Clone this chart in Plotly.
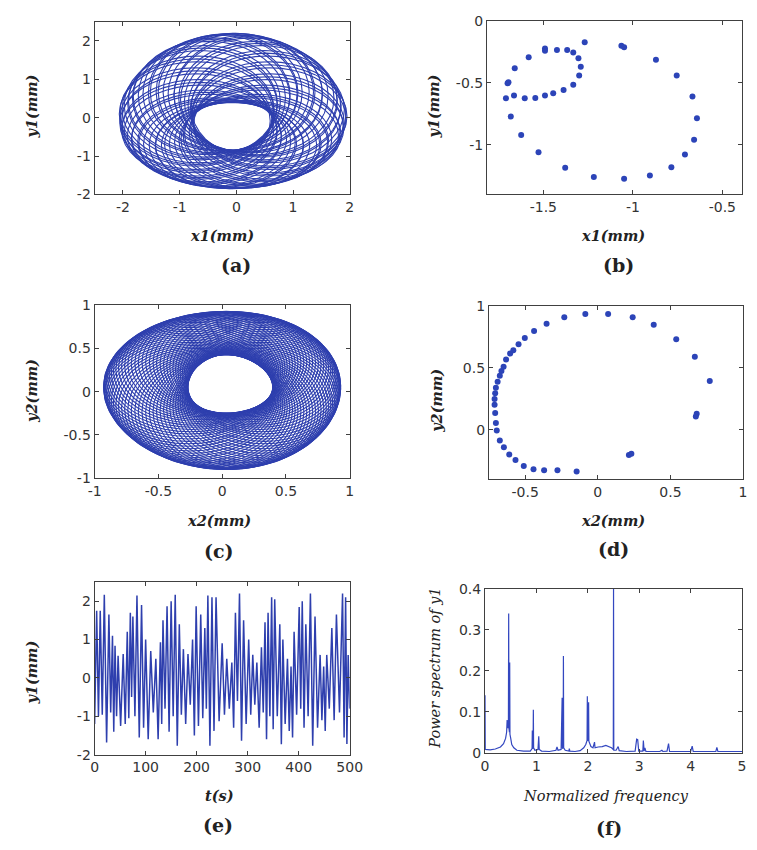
import math
import plotly.graph_objects as go

W, H = 757, 850
LINE = "#2e3fae"
DOT = "#2c44b8"
AXC = "#404040"

# ---------------- (a) x1-y1 torus: centre and semi-axes of each loop ----------------
a_cx = [0.585, 0.157, -0.563, -0.628, 0.048, 0.575, 0.26, -0.483, -0.676, -0.065, 0.546, 0.353,
        -0.39, -0.705, -0.178, 0.498, 0.433, -0.287, -0.715, -0.287, 0.433, 0.498, -0.178, -0.705,
        -0.39, 0.353, 0.546, -0.065, -0.676, -0.483, 0.26, 0.575, 0.048, -0.628, -0.563, 0.157,
        0.582, 0.524, 0.395, 0.210, -0.008, -0.233, -0.438, -0.597, -0.693, -0.712, -0.654, -0.525,
        -0.340, -0.122, 0.103, 0.308, 0.467, 0.563]
a_cy = [-0.025, 0.633, 0.425, -0.375, -0.715, -0.147, 0.581, 0.511, -0.264, -0.725, -0.264, 0.511,
        0.581, -0.147, -0.715, -0.375, 0.425, 0.633, -0.025, -0.683, -0.475, 0.325, 0.665, 0.097,
        -0.631, -0.561, 0.214, 0.675, 0.214, -0.561, -0.631, 0.097, 0.665, 0.325, -0.475, -0.683,
        0.036, 0.271, 0.470, 0.609, 0.672, 0.651, 0.548, 0.377, 0.156, -0.086, -0.321, -0.520,
        -0.659, -0.722, -0.701, -0.598, -0.427, -0.206]
a_rx = [1.35, 1.36, 1.34, 1.35, 1.37, 1.33, 1.36, 1.35, 1.34, 1.36, 1.35, 1.37, 1.34, 1.35, 1.36, 1.33,
        1.35, 1.36, 1.34, 1.35, 1.37, 1.35, 1.34, 1.36, 1.35, 1.33, 1.36, 1.35, 1.34, 1.37, 1.35, 1.36,
        1.34, 1.35, 1.36, 1.34,
        1.37, 1.32, 1.38, 1.31, 1.37, 1.32, 1.38, 1.32, 1.36, 1.31, 1.37, 1.32, 1.38, 1.31, 1.37, 1.32,
        1.38, 1.32]
a_ry = [1.325, 1.513, 1.454, 1.225, 1.128, 1.290, 1.498, 1.478, 1.257, 1.125, 1.257, 1.478, 1.498,
        1.290, 1.128, 1.225, 1.454, 1.513, 1.325, 1.137, 1.196, 1.425, 1.522, 1.360, 1.152, 1.172,
        1.393, 1.525, 1.393, 1.172, 1.152, 1.360, 1.522, 1.425, 1.196, 1.137,
        1.342, 1.410, 1.466, 1.506, 1.524, 1.518, 1.489, 1.440, 1.377, 1.308, 1.240, 1.184,
        1.144, 1.126, 1.132, 1.161, 1.210, 1.273]

# ---------------- (b) Poincare section x1-y1 ----------------
b_x = [-1.709, -1.700, -1.695, -1.660, -1.664, -1.604, -1.545, -1.491, -1.445, -1.387, -1.333, -1.300,
       -1.291, -1.304, -1.333, -1.367, -1.424, -1.491, -1.491, -1.582, -1.269, -1.064, -1.049, -0.871,
       -0.755, -0.667, -0.642, -0.658, -0.709, -0.785, -0.905, -1.049, -1.218, -1.378, -1.527, -1.624,
       -1.682]
b_y = [-0.625, -0.504, -0.496, -0.383, -0.603, -0.625, -0.622, -0.603, -0.584, -0.558, -0.515, -0.442,
       -0.370, -0.303, -0.255, -0.236, -0.236, -0.223, -0.241, -0.295, -0.174, -0.201, -0.214, -0.314,
       -0.442, -0.611, -0.786, -0.960, -1.078, -1.180, -1.247, -1.273, -1.260, -1.185, -1.059, -0.920,
       -0.772]

# ---------------- (c) x2-y2 torus: centre and semi-axes of each loop ----------------
c_cx = [0.330, 0.326, 0.312, 0.290, 0.260, 0.224, 0.181, 0.134, 0.084, 0.032, -0.020, -0.070,
        -0.117, -0.160, -0.196, -0.226, -0.248, -0.262, -0.266, -0.262, -0.248, -0.226, -0.196, -0.160,
        -0.117, -0.070, -0.020, 0.032, 0.084, 0.134, 0.181, 0.224, 0.260, 0.290, 0.312, 0.326,
        0.329, 0.320, 0.302, 0.276, 0.243, 0.203, 0.158, 0.109, 0.058, 0.006, -0.045, -0.094,
        -0.139, -0.179, -0.212, -0.238, -0.256, -0.265, -0.265, -0.256, -0.238, -0.212, -0.179, -0.139,
        -0.094, -0.045, 0.006, 0.058, 0.109, 0.158, 0.203, 0.243, 0.276, 0.302, 0.320, 0.329]
c_cy = [0.052, 0.102, 0.150, 0.196, 0.237, 0.273, 0.301, 0.323, 0.336, 0.340, 0.336, 0.323,
        0.301, 0.273, 0.237, 0.196, 0.150, 0.102, 0.052, 0.002, -0.046, -0.092, -0.133, -0.169,
        -0.197, -0.219, -0.232, -0.236, -0.232, -0.219, -0.197, -0.169, -0.133, -0.092, -0.046, 0.002,
        0.077, 0.127, 0.174, 0.217, 0.256, 0.288, 0.313, 0.330, 0.339, 0.339, 0.330, 0.313,
        0.288, 0.256, 0.217, 0.174, 0.127, 0.077, 0.027, -0.023, -0.070, -0.113, -0.152, -0.184,
        -0.209, -0.226, -0.235, -0.235, -0.226, -0.209, -0.184, -0.152, -0.113, -0.070, -0.023, 0.027]
c_rx = [0.600, 0.600, 0.602, 0.604, 0.607, 0.611, 0.616, 0.621, 0.626, 0.632, 0.638, 0.643,
        0.648, 0.653, 0.657, 0.660, 0.662, 0.664, 0.664, 0.664, 0.662, 0.660, 0.657, 0.653,
        0.648, 0.643, 0.638, 0.632, 0.626, 0.621, 0.616, 0.611, 0.607, 0.604, 0.602, 0.600,
        0.600, 0.601, 0.603, 0.606, 0.609, 0.614, 0.618, 0.624, 0.629, 0.635, 0.640, 0.646,
        0.650, 0.655, 0.658, 0.661, 0.663, 0.664, 0.664, 0.663, 0.661, 0.658, 0.655, 0.650,
        0.646, 0.640, 0.635, 0.629, 0.624, 0.618, 0.614, 0.609, 0.606, 0.603, 0.601, 0.600]
c_ry = [0.628, 0.621, 0.615, 0.609, 0.604, 0.599, 0.595, 0.592, 0.591, 0.590, 0.591, 0.592,
        0.595, 0.599, 0.604, 0.609, 0.615, 0.621, 0.628, 0.635, 0.641, 0.647, 0.652, 0.657,
        0.661, 0.664, 0.665, 0.666, 0.665, 0.664, 0.661, 0.657, 0.652, 0.647, 0.641, 0.635,
        0.625, 0.618, 0.612, 0.606, 0.601, 0.597, 0.594, 0.591, 0.590, 0.590, 0.591, 0.594,
        0.597, 0.601, 0.606, 0.612, 0.618, 0.625, 0.631, 0.638, 0.644, 0.650, 0.655, 0.659,
        0.662, 0.665, 0.666, 0.666, 0.665, 0.662, 0.659, 0.655, 0.650, 0.644, 0.638, 0.631]

# ---------------- (d) Poincare section x2-y2 ----------------
d_x = [-0.707, -0.711, -0.711, -0.707, -0.702, -0.690, -0.675, -0.664, -0.649, -0.632, -0.604, -0.582,
       -0.546, -0.503, -0.439, -0.353, -0.231, -0.086, 0.071, 0.240, 0.385, 0.540, 0.668, 0.771,
       0.681, 0.675, 0.214, 0.231, -0.146, -0.278, -0.370, -0.443, -0.510, -0.567, -0.610, -0.647,
       -0.675, -0.696, -0.702]
d_y = [0.134, 0.201, 0.249, 0.295, 0.340, 0.389, 0.437, 0.475, 0.509, 0.568, 0.617, 0.643,
       0.692, 0.743, 0.799, 0.858, 0.912, 0.938, 0.938, 0.912, 0.850, 0.732, 0.590, 0.394,
       0.129, 0.107, -0.206, -0.196, -0.340, -0.330, -0.330, -0.322, -0.295, -0.247, -0.201, -0.142,
       -0.088, -0.008, 0.054]

# ---------------- (e) y1 time history: successive maxima and minima ----------------
e_peak_t = [4, 11, 19, 28, 35, 40, 46, 56, 64, 70, 75, 83, 92, 100, 110, 120, 129, 134, 142, 150, 158,
            166, 174, 183, 192, 199, 208, 216, 222, 230, 238, 250, 259, 269, 276, 284, 292, 302, 310,
            318, 327, 334, 340, 347, 353, 363, 369, 378, 385, 391, 401, 407, 414, 423, 432, 442, 449,
            455, 465, 474, 486, 492, 497]
e_peak_v = [1.75, 1.75, 2.17, 1.65, 1.1, 0.84, 0.58, 0.62, 1.2, 1.7, 1.6, 2.15, 1.9, 1.0, 0.7, 0.5, 0.93,
            1.5, 1.87, 2.0, 2.17, 1.4, 0.75, 0.62, 1.0, 1.87, 1.65, 1.3, 2.15, 2.1, 2.1, 0.9, 0.5, 0.4,
            1.7, 2.2, 1.5, 1.0, 0.6, 0.4, 0.8, 1.45, 1.7, 2.1, 2.05, 1.4, 1.0, 0.5, 0.3, 1.2, 1.85, 2.0,
            1.4, 2.2, 1.6, 0.6, 0.3, 0.6, 1.3, 1.65, 2.2, 2.1, 0.6]
e_trough_t = [7.5, 15, 23.5, 31.5, 37.5, 43, 51, 60, 67, 72.5, 79, 87.5, 96, 105, 115, 124.5, 131.5,
              138, 146, 154, 162, 170, 178.5, 187.5, 195.5, 203.5, 212, 219, 226, 234, 244, 254.5,
              264, 272.5, 280, 288, 297, 306, 314, 322.5, 330.5, 337, 343.5, 350, 358, 366, 373.5,
              381.5, 388, 396, 404, 410.5, 418.5, 427.5, 437, 445.5, 452, 460, 469.5, 480, 489, 494.5]
e_trough_v = [-1.0, -0.96, -1.68, -0.9, -1.4, -1.0, -1.25, -1.2, -1.05, -0.5, -1.0, -1.55, -1.3, -1.6,
              -0.9, -1.6, -1.2, -0.8, -1.4, -1.0, -1.77, -0.96, -1.2, -0.7, -1.5, -1.25, -1.05, -0.8,
              -1.77, -1.38, -1.13, -0.96, -0.8, -1.3, -0.6, -1.64, -1.2, -0.96, -0.7, -1.3, -0.9, -1.6,
              -1.0, -1.34, -1.0, -1.73, -1.2, -1.38, -1.55, -0.96, -0.8, -1.3, -1.0, -1.77, -1.3, -1.1,
              -1.38, -0.8, -1.1, -0.9, -1.55, -1.72]
e_start = (0, -1.2)
e_end = (500, -0.8)

# ---------------- (f) power spectrum of y1 ----------------
f_freq = [0.0, 0.005, 0.1, 0.2, 0.3, 0.36, 0.40, 0.42, 0.43, 0.44, 0.455, 0.46, 0.465, 0.475, 0.48,
          0.485, 0.5, 0.52, 0.56, 0.62, 0.75, 0.88, 0.915, 0.92, 0.925, 0.935, 0.94, 0.945, 0.97,
          1.03, 1.045, 1.055, 1.1, 1.25, 1.38, 1.40, 1.42, 1.48, 1.5, 1.505, 1.52, 1.525, 1.53, 1.56,
          1.63, 1.64, 1.65, 1.75, 1.85, 1.92, 1.96, 1.985, 1.99, 1.995, 2.01, 2.015, 2.02, 2.06, 2.1,
          2.13, 2.14, 2.2, 2.28, 2.35, 2.4, 2.46, 2.495, 2.5, 2.505, 2.55, 2.59, 2.61, 2.75, 2.92,
          2.95, 2.97, 2.99, 3.07, 3.08, 3.095, 3.11, 3.13, 3.4, 3.44, 3.46, 3.54, 3.57, 3.59, 4.0,
          4.03, 4.05, 4.49, 4.51, 4.53, 5.0]
f_power = [0.14, 0.008, 0.007, 0.009, 0.014, 0.022, 0.035, 0.05, 0.08, 0.06, 0.07, 0.34, 0.06, 0.05,
           0.22, 0.045, 0.035, 0.02, 0.012, 0.006, 0.004, 0.004, 0.01, 0.054, 0.01, 0.012, 0.105,
           0.012, 0.006, 0.008, 0.04, 0.008, 0.004, 0.003, 0.006, 0.014, 0.006, 0.008, 0.134, 0.01,
           0.012, 0.236, 0.012, 0.006, 0.004, 0.01, 0.004, 0.003, 0.005, 0.012, 0.02, 0.03, 0.138,
           0.03, 0.03, 0.123, 0.028, 0.015, 0.012, 0.026, 0.012, 0.014, 0.015, 0.018, 0.016, 0.012,
           0.008, 0.4, 0.006, 0.006, 0.015, 0.005, 0.003, 0.004, 0.033, 0.032, 0.004, 0.004, 0.03,
           0.004, 0.012, 0.003, 0.003, 0.006, 0.003, 0.004, 0.022, 0.003, 0.003, 0.016, 0.003, 0.003,
           0.013, 0.003, 0.003]

# ---------------- axis ticks ----------------
ticks = {
    "a_x": ([-2, -1, 0, 1, 2], ["-2", "-1", "0", "1", "2"]),
    "a_y": ([-2, -1, 0, 1, 2], ["-2", "-1", "0", "1", "2"]),
    "b_x": ([-1.5, -1, -0.5], ["-1.5", "-1", "-0.5"]),
    "b_y": ([-1, -0.5, 0], ["-1", "-0.5", "0"]),
    "c_x": ([-1, -0.5, 0, 0.5, 1], ["-1", "-0.5", "0", "0.5", "1"]),
    "c_y": ([-1, -0.5, 0, 0.5, 1], ["-1", "-0.5", "0", "0.5", "1"]),
    "d_x": ([-0.5, 0, 0.5, 1], ["-0.5", "0", "0.5", "1"]),
    "d_y": ([0, 0.5, 1], ["0", "0.5", "1"]),
    "e_x": ([0, 100, 200, 300, 400, 500], ["0", "100", "200", "300", "400", "500"]),
    "e_y": ([-2, -1, 0, 1, 2], ["-2", "-1", "0", "1", "2"]),
    "f_x": ([0, 1, 2, 3, 4, 5], ["0", "1", "2", "3", "4", "5"]),
    "f_y": ([0, 0.1, 0.2, 0.3, 0.4], ["0", "0.1", "0.2", "0.3", "0.4"]),
}

# each torus loop is traced as a closed ellipse around its centre
N_SEG = 40
RING = [(math.cos(2 * math.pi * j / N_SEG), math.sin(2 * math.pi * j / N_SEG)) for j in range(N_SEG + 1)]


def orbit(cx, cy, rx, ry):
    xs, ys = [], []
    for i in range(len(cx)):
        for c, s in RING:
            xs.append(cx[i] + rx[i] * c)
            ys.append(cy[i] + ry[i] * s)
        xs.append(None)
        ys.append(None)
    return xs, ys


def history(pt, pv, tt, tv):
    ts, vs = [e_start[0]], [e_start[1]]
    for i in range(len(pt)):
        ts.append(pt[i]); vs.append(pv[i])
        if i < len(tt):
            ts.append(tt[i]); vs.append(tv[i])
    ts.append(e_end[0]); vs.append(e_end[1])
    return ts, vs


fig = go.Figure()

ax, ay = orbit(a_cx, a_cy, a_rx, a_ry)
fig.add_trace(go.Scatter(x=ax, y=ay, mode="lines", line=dict(color=LINE, width=1.1),
                         xaxis="x", yaxis="y"))
fig.add_trace(go.Scatter(x=b_x, y=b_y, mode="markers", marker=dict(color=DOT, size=6),
                         xaxis="x2", yaxis="y2"))
cx_, cy_ = orbit(c_cx, c_cy, c_rx, c_ry)
fig.add_trace(go.Scatter(x=cx_, y=cy_, mode="lines", line=dict(color=LINE, width=1.1),
                         xaxis="x3", yaxis="y3"))
fig.add_trace(go.Scatter(x=d_x, y=d_y, mode="markers", marker=dict(color=DOT, size=6),
                         xaxis="x4", yaxis="y4"))
et, ev = history(e_peak_t, e_peak_v, e_trough_t, e_trough_v)
fig.add_trace(go.Scatter(x=et, y=ev, mode="lines", line=dict(color=LINE, width=1.5),
                         xaxis="x5", yaxis="y5"))
fig.add_trace(go.Scatter(x=f_freq, y=f_power, mode="lines", line=dict(color="#3347c0", width=1.2),
                         xaxis="x6", yaxis="y6"))


# page pixel -> paper fraction
def px_x(p):
    return p / W


def px_y(p):
    return 1 - p / H


# plot-area boxes in page pixels: left, right, top, bottom, x range, y range
boxes = {
    "a": (90, 352, 14, 190, [-2.5, 2], [-2, 2.5]),
    "b": (493, 755, 13, 190, [-1.815, -0.39], [-1.4, 0]),
    "c": (90, 352, 303, 479, [-1, 1], [-1, 1]),
    "d": (495, 756, 304, 480, [-0.75, 1.0], [-0.4, 1]),
    "e": (90, 352, 585, 761, [0, 500], [-2, 2.5]),
    "f": (491, 755, 592, 759, [0, 5], [0, 0.4]),
}

axis_common = dict(showline=True, linecolor=AXC, linewidth=1, mirror="ticks", ticks="inside",
                   ticklen=4, tickcolor=AXC, showgrid=False, zeroline=False,
                   ticklabeloverflow="allow",
                   tickfont=dict(family="DejaVu Sans", size=14, color="#333333"))

layout = {}
for n, key in enumerate("abcdef", start=1):
    l, r, t, b, xr, yr = boxes[key]
    sfx = "" if n == 1 else str(n)
    xv, xt = ticks[key + "_x"]
    yv, yt = ticks[key + "_y"]
    layout["xaxis" + sfx] = dict(domain=[px_x(l), min(px_x(r), 1.0)], range=xr, anchor="y" + sfx,
                                 tickvals=xv, ticktext=xt, **axis_common)
    layout["yaxis" + sfx] = dict(domain=[px_y(b), px_y(t)], range=yr, anchor="x" + sfx,
                                 tickvals=yv, ticktext=yt, **axis_common)

ann = []


def label(text, x, y, size=14.5, angle=0, bold=True, italic=True):
    s = text
    if italic:
        s = "<i>" + s + "</i>"
    if bold:
        s = "<b>" + s + "</b>"
    ann.append(dict(text=s, x=px_x(x), y=px_y(y), xref="paper", yref="paper", showarrow=False,
                    textangle=angle, xanchor="center", yanchor="middle",
                    font=dict(family="DejaVu Serif", size=size, color="#222222")))


# axis titles
label("x1(mm)", 221, 232)
label("y1(mm)", 25, 100, angle=-90)
label("x1(mm)", 622, 232)
label("y1(mm)", 438, 100, angle=-90)
label("x2(mm)", 218, 522)
label("y2(mm)", 25, 390, angle=-90)
label("x2(mm)", 622, 522)
label("y2(mm)", 441, 400, angle=-90)
label("t(s)", 218, 803)
label("y1(mm)", 25, 677, angle=-90)
label("Normalized frequency", 615, 803, bold=False)
label("Power spectrum of y1", 440, 673, angle=-90, bold=False)

# panel letters
for txt, x, y in [("(a)", 235, 262), ("(b)", 628, 262), ("(c)", 218, 553),
                  ("(d)", 623, 551), ("(e)", 217, 833), ("(f)", 618, 836)]:
    label(txt, x, y, size=19, italic=False)

fig.update_layout(width=W, height=H, margin=dict(l=0, r=0, t=0, b=0), showlegend=False,
                  paper_bgcolor="white", plot_bgcolor="white", annotations=ann, **layout)

fig.write_html("out.html")
